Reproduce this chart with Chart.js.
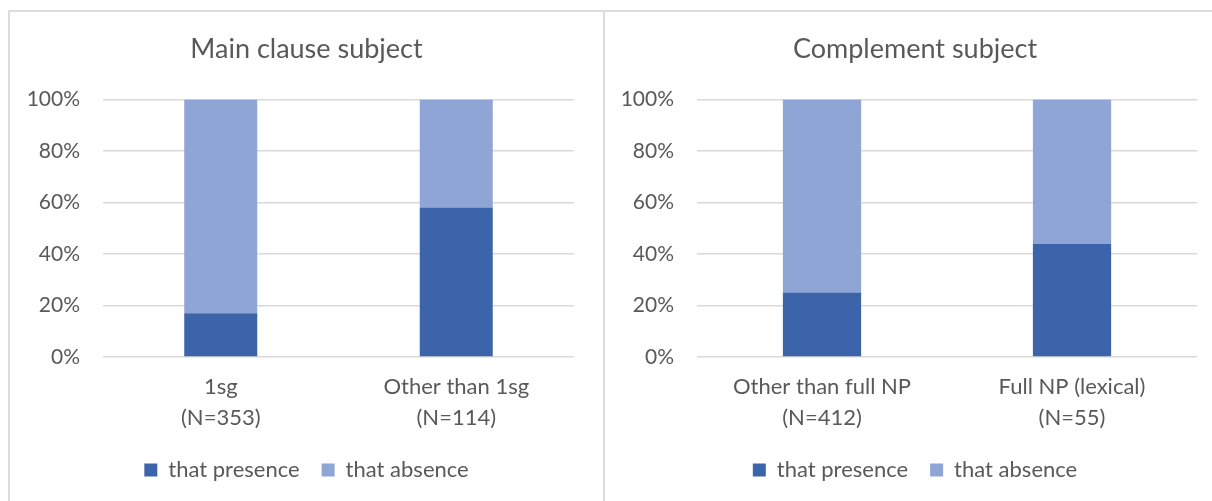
<!DOCTYPE html>
<html>
<head>
<meta charset="utf-8">
<script src="https://cdn.jsdelivr.net/npm/chart.js@4/dist/chart.umd.min.js"></script>
<style>
  html, body { margin: 0; padding: 0; background: #ffffff; overflow: hidden; width: 1212px; height: 501px; }
  .panel { position: absolute; top: 10px; height: 520px; border: 2px solid #dcdcdc; border-bottom: none; box-sizing: border-box; }
  #panelMain { left: 8px; width: 597px; }
  #panelComp { left: 603px; width: 624px; }
  canvas { position: absolute; }
</style>
</head>
<body>
<div class="panel" id="panelMain"><canvas id="chartMain"></canvas></div>
<div class="panel" id="panelComp"><canvas id="chartComp"></canvas></div>
<script>
// Share of complement clauses with and without "that", by subject type
const seriesNames = ['that presence', 'that absence'];

const mainCategories = [['1sg', '(N=353)'], ['Other than 1sg', '(N=114)']];
const mainPresence = [17, 58];
const mainAbsence = [83, 42];

const compCategories = [['Other than full NP', '(N=412)'], ['Full NP (lexical)', '(N=55)']];
const compPresence = [25, 44];
const compAbsence = [75, 56];

const percentSteps = 20;

const TEXT = '#595959';
const GRID = '#d9d9d9';
const DARK = '#3c64ab';
const LIGHT = '#8fa5d5';
const FONT = 'Lato, "Open Sans", sans-serif';

function makeChart(id, title, categories, presence, absence, opts) {
  const canvas = document.getElementById(id);
  canvas.width = opts.width;
  canvas.height = opts.height;
  canvas.style.left = '0px';
  canvas.style.top = '0px';
  return new Chart(canvas, {
    type: 'bar',
    data: {
      labels: categories,
      datasets: [
        { label: seriesNames[0], data: presence, backgroundColor: DARK, borderWidth: 0 },
        { label: seriesNames[1], data: absence, backgroundColor: LIGHT, borderWidth: 0 }
      ]
    },
    options: {
      responsive: false,
      animation: false,
      devicePixelRatio: 1,
      layout: { padding: { left: 0, right: 0, top: 0, bottom: 11 } },
      datasets: { bar: { categoryPercentage: 1, barPercentage: opts.barPct } },
      plugins: {
        tooltip: { enabled: false },
        title: {
          display: true,
          text: title,
          color: TEXT,
          font: { family: FONT, size: 27, weight: 'normal', lineHeight: 1.2 },
          padding: { top: 21, bottom: 34 }
        },
        legend: {
          position: 'bottom',
          labels: {
            color: TEXT,
            font: { family: FONT, size: 22 },
            boxWidth: 13,
            boxHeight: 13,
            padding: 22
          }
        }
      },
      scales: {
        x: {
          stacked: true,
          grid: { display: false, drawTicks: false },
          border: { display: false },
          afterFit: (scale) => { scale.height = 80; },
          ticks: {
            color: TEXT,
            font: { family: FONT, size: 22, lineHeight: 1.4 },
            padding: 15,
            maxRotation: 0
          }
        },
        y: {
          stacked: true,
          min: 0,
          max: 100,
          grid: { color: GRID, lineWidth: 1.5, drawTicks: false },
          border: { display: false },
          afterFit: (scale) => { scale.width = opts.axisWidth; },
          ticks: {
            stepSize: percentSteps,
            color: TEXT,
            font: { family: FONT, size: 21 },
            padding: 23,
            callback: (v) => v + '%'
          }
        },
        // empty right-hand margin so the plot stops short of the panel edge
        margin: {
          type: 'linear',
          position: 'right',
          grid: { display: false, drawTicks: false },
          border: { display: false },
          ticks: { display: false },
          afterFit: (scale) => { scale.width = opts.rightPad; }
        }
      }
    }
  });
}

makeChart('chartMain', 'Main clause subject', mainCategories, mainPresence, mainAbsence,
  { width: 593, height: 490, rightPad: 29, axisWidth: 93, barPct: 0.31 });
makeChart('chartComp', 'Complement subject', compCategories, compPresence, compAbsence,
  { width: 620, height: 490, rightPad: 28, axisWidth: 92, barPct: 0.313 });
</script>
</body>
</html>
